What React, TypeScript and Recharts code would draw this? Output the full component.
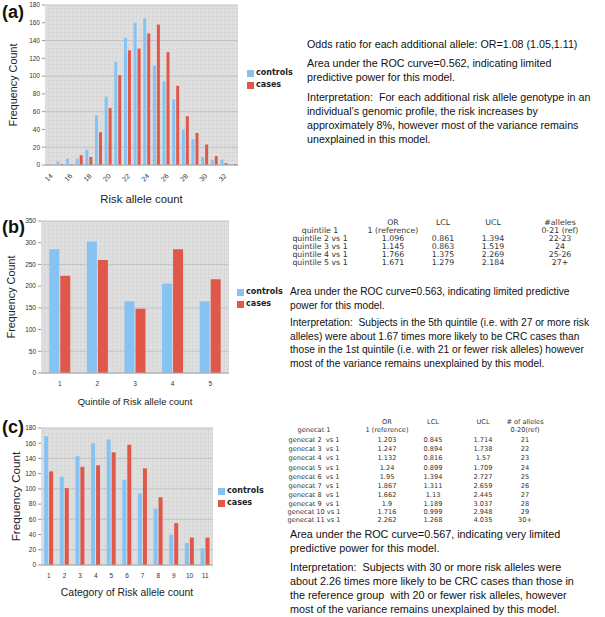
import React from "react";
import { BarChart, Bar, XAxis, YAxis, CartesianGrid, Legend } from "recharts";

// ---- data ----
const alleleCounts = ["14", "15", "16", "17", "18", "19", "20", "21", "22", "23", "24", "25", "26", "27", "28", "29", "30", "31", "32", "33"];
const alleleControls = [1, 4, 7, 7, 17, 56, 77, 116, 143, 160, 165, 112, 94, 74, 40, 29, 9, 6, 6, 1];
const alleleCases = [0, 1, 1, 11, 9, 37, 64, 101, 129, 131, 148, 158, 127, 89, 55, 36, 23, 10, 2, 1];

const quintiles = ["1", "2", "3", "4", "5"];
const quintileControls = [285, 303, 165, 206, 165];
const quintileCases = [224, 260, 148, 285, 216];

const categories = ["1", "2", "3", "4", "5", "6", "7", "8", "9", "10", "11"];
const categoryControls = [169, 116, 143, 160, 165, 112, 94, 74, 40, 29, 22];
const categoryCases = [123, 101, 129, 131, 148, 158, 127, 89, 55, 36, 36];

const ticks180 = [0, 20, 40, 60, 80, 100, 120, 140, 160, 180];
const ticks350 = [0, 50, 100, 150, 200, 250, 300, 350];

// tables
const quintileHeader = ["", "OR", "LCL", "UCL", "#alleles"];
const quintileRows = [
  ["quintile 1", "1 (reference)", "", "", "0-21 (ref)"],
  ["quintile 2 vs 1", "1.096", "0.861", "1.394", "22-23"],
  ["quintile 3 vs 1", "1.145", "0.863", "1.519", "24"],
  ["quintile 4 vs 1", "1.766", "1.375", "2.269", "25-26"],
  ["quintile 5 vs 1", "1.671", "1.279", "2.184", "27+"],
];
const genecatHeader = ["", "OR", "LCL", "UCL", "# of alleles"];
const genecatRows = [
  ["genecat 1", "1 (reference)", "", "", "0-20(ref)"],
  ["genecat 2  vs 1", "1.203", "0.845", "1.714", "21"],
  ["genecat 3  vs 1", "1.247", "0.894", "1.738", "22"],
  ["genecat 4  vs 1", "1.132", "0.816", "1.57", "23"],
  ["genecat 5  vs 1", "1.24", "0.899", "1.709", "24"],
  ["genecat 6  vs 1", "1.95", "1.394", "2.727", "25"],
  ["genecat 7  vs 1", "1.867", "1.311", "2.659", "26"],
  ["genecat 8  vs 1", "1.662", "1.13", "2.445", "27"],
  ["genecat 9  vs 1", "1.9", "1.189", "3.037", "28"],
  ["genecat 10 vs 1", "1.716", "0.999", "2.948", "29"],
  ["genecat 11 vs 1", "2.262", "1.268", "4.035", "30+"],
];

const textA = [
  ["Odds ratio for each additional allele: OR=1.08 (1.05,1.11)"],
  ["Area under the ROC curve=0.562, indicating limited", "predictive power for this model."],
  [
    "Interpretation:  For each additional risk allele genotype in an",
    "individual\u2019s genomic profile, the risk increases by",
    "approximately 8%, however most of the variance remains",
    "unexplained in this model.",
  ],
];
const textB = [
  ["Area under the ROC curve=0.563, indicating limited predictive", "power for this model."],
  [
    "Interpretation:  Subjects in the 5th quintile (i.e. with 27 or more risk",
    "alleles) were about 1.67 times more likely to be CRC cases than",
    "those in the 1st quintile (i.e. with 21 or fewer risk alleles) however",
    "most of the variance remains unexplained by this model.",
  ],
];
const textC = [
  ["Area under the ROC curve=0.567, indicating very limited", "predictive power for this model."],
  [
    "Interpretation:  Subjects with 30 or more risk alleles were",
    "about 2.26 times more likely to be CRC cases than those in",
    "the reference group  with 20 or fewer risk alleles, however",
    "most of the variance remains unexplained by this model.",
  ],
];

// ---- styling ----
const FONT = '"Liberation Sans", Arial, sans-serif';
const TABLE_FONT = '"DejaVu Sans", Verdana, sans-serif';
const CONTROL = "#86c3f5";
const CASE = "#e05849";

const makeData = (labels: string[], controls: number[], cases: number[]) =>
  labels.map((label, i) => ({ label, controls: controls[i], cases: cases[i] }));

function LegendBox() {
  const items = [
    { name: "controls", color: CONTROL },
    { name: "cases", color: CASE },
  ];
  return (
    <div style={{ fontFamily: TABLE_FONT, fontSize: 8, fontWeight: "bold", color: "#222", lineHeight: "12px" }}>
      {items.map((it) => (
        <div key={it.name} style={{ display: "flex", alignItems: "center", whiteSpace: "nowrap" }}>
          <span style={{ display: "inline-block", width: 7, height: 7, background: it.color, marginRight: 2 }} />
          {it.name}
        </div>
      ))}
    </div>
  );
}

type PanelProps = {
  id: string;
  data: { label: string; controls: number; cases: number }[];
  top: number;
  height: number;
  margin: { top: number; right: number; bottom: number; left: number };
  yWidth: number;
  yTicks: number[];
  xAxisHeight: number;
  xTick: any;
  xInterval: number;
  xTitle: string;
  xTitleSize: number;
  xTitleOffset: number;
  yTitleSize: number;
  yTitleOffset: number;
  gap: string;
  legend: { x: number; y: number };
};

function FreqPanel(p: PanelProps) {
  return (
    <div style={{ position: "absolute", left: 0, top: p.top, fontFamily: FONT }}>
      <BarChart width={300} height={p.height} data={p.data} margin={p.margin} barCategoryGap={p.gap} barGap={1}>
        <defs>
          <pattern id={p.id} width={4} height={4} patternUnits="userSpaceOnUse">
            <rect width={4} height={4} fill="#dedede" />
            <rect width={1} height={1} fill="#cacaca" />
          </pattern>
        </defs>
        <CartesianGrid vertical={false} stroke="#c2c2c2" fill={`url(#${p.id})`} fillOpacity={1} />
        <XAxis
          dataKey="label"
          interval={p.xInterval}
          height={p.xAxisHeight}
          tick={p.xTick}
          tickLine={false}
          axisLine={{ stroke: "#aaaaaa" }}
          label={{
            value: p.xTitle,
            position: "insideBottom",
            offset: p.xTitleOffset,
            style: { fontSize: p.xTitleSize, fill: "#222" },
          }}
        />
        <YAxis
          width={p.yWidth}
          domain={[0, p.yTicks[p.yTicks.length - 1]]}
          ticks={p.yTicks}
          tick={{ fontSize: 6.5, fill: "#333" }}
          tickSize={3}
          tickLine={{ stroke: "#999" }}
          axisLine={false}
          label={{
            value: "Frequency Count",
            angle: -90,
            position: "insideLeft",
            offset: p.yTitleOffset,
            style: { textAnchor: "middle", fontSize: p.yTitleSize, fill: "#222" },
          }}
        />
        <Legend
          layout="vertical"
          align="center"
          verticalAlign="middle"
          wrapperStyle={{ left: p.legend.x, top: p.legend.y, width: 60 }}
          content={<LegendBox />}
        />
        <Bar dataKey="controls" name="controls" fill={CONTROL} isAnimationActive={false} />
        <Bar dataKey="cases" name="cases" fill={CASE} isAnimationActive={false} />
      </BarChart>
    </div>
  );
}

function PanelTag({ text, top }: { text: string; top: number }) {
  return (
    <div style={{ position: "absolute", left: 2, top, fontFamily: FONT, fontWeight: "bold", fontSize: 18, lineHeight: "18px", color: "#111" }}>
      {text}
    </div>
  );
}

function Paragraphs({ paras, left, tops, size, lh }: { paras: string[][]; left: number; tops: number[]; size: number; lh: number }) {
  return (
    <>
      {paras.map((lines, i) => (
        <div
          key={i}
          style={{ position: "absolute", left, top: tops[i], fontFamily: FONT, fontSize: size, lineHeight: `${lh}px`, color: "#111", whiteSpace: "pre" }}
        >
          {lines.map((l, j) => (
            <div key={j}>{l}</div>
          ))}
        </div>
      ))}
    </>
  );
}

function StatTable({ header, rows, cols, top, rowTops, size }: { header: string[]; rows: string[][]; cols: number[]; top: number; rowTops: number[]; size: number }) {
  const all = [header, ...rows];
  const ys = [top, ...rowTops];
  return (
    <>
      {all.map((r, ri) =>
        r.map((cell, ci) =>
          cell ? (
            <span
              key={`${ri}-${ci}`}
              style={{
                position: "absolute",
                left: cols[ci],
                top: ys[ri] - size / 2,
                transform: "translateX(-50%)",
                fontFamily: TABLE_FONT,
                fontSize: size,
                lineHeight: `${size}px`,
                color: "#333",
                whiteSpace: "pre",
              }}
            >
              {cell}
            </span>
          ) : null
        )
      )}
    </>
  );
}

export default function App() {
  const dataA = makeData(alleleCounts, alleleControls, alleleCases);
  const dataB = makeData(quintiles, quintileControls, quintileCases);
  const dataC = makeData(categories, categoryControls, categoryCases);

  return (
    <div style={{ position: "absolute", left: 0, top: 0, width: 605, height: 617, background: "#fff", overflow: "hidden" }}>
      <FreqPanel
        id="dotsA"
        data={dataA}
        top={0}
        height={210}
        margin={{ top: 5, right: 62, bottom: 0, left: 8 }}
        yWidth={37}
        yTicks={ticks180}
        xAxisHeight={45}
        xTick={{ angle: -45, textAnchor: "end", fontSize: 7, fill: "#333" }}
        xInterval={1}
        xTitle="Risk allele count"
        xTitleSize={11.3}
        xTitleOffset={7}
        yTitleSize={10.8}
        yTitleOffset={5}
        gap="18%"
        legend={{ x: 247, y: 67 }}
      />
      <FreqPanel
        id="dotsB"
        data={dataB}
        top={205}
        height={205}
        margin={{ top: 16, right: 71, bottom: 0, left: 8 }}
        yWidth={33}
        yTicks={ticks350}
        xAxisHeight={37}
        xTick={{ fontSize: 6.5, fill: "#333" }}
        xInterval={0}
        xTitle="Quintile of Risk allele count"
        xTitleSize={9.5}
        xTitleOffset={5}
        yTitleSize={10.8}
        yTitleOffset={3}
        gap="22%"
        legend={{ x: 237, y: 81 }}
      />
      <FreqPanel
        id="dotsC"
        data={dataC}
        top={405}
        height={212}
        margin={{ top: 23, right: 87, bottom: 0, left: 8 }}
        yWidth={33}
        yTicks={ticks180}
        xAxisHeight={52}
        xTick={{ fontSize: 6.5, fill: "#333" }}
        xInterval={0}
        xTitle="Category of Risk allele count"
        xTitleSize={10.4}
        xTitleOffset={21}
        yTitleSize={11.7}
        yTitleOffset={8}
        gap="20%"
        legend={{ x: 218, y: 80 }}
      />

      <PanelTag text="(a)" top={3} />
      <PanelTag text="(b)" top={218} />
      <PanelTag text="(c)" top={418} />

      <Paragraphs paras={textA} left={307} tops={[37, 56, 90]} size={10.7} lh={14} />

      <StatTable
        header={quintileHeader}
        rows={quintileRows}
        cols={[320, 393, 443, 493, 560]}
        top={223}
        rowTops={[231, 239, 247, 255, 263]}
        size={7.8}
      />
      <Paragraphs paras={textB} left={290} tops={[285, 316]} size={10.2} lh={13.7} />

      <StatTable
        header={genecatHeader}
        rows={genecatRows}
        cols={[314, 387, 433, 483, 525]}
        top={422}
        rowTops={[430, 440, 449, 458, 468, 477, 486, 495, 504, 512, 520]}
        size={6.6}
      />
      <Paragraphs paras={textC} left={290} tops={[527, 560]} size={10.8} lh={14} />
    </div>
  );
}
